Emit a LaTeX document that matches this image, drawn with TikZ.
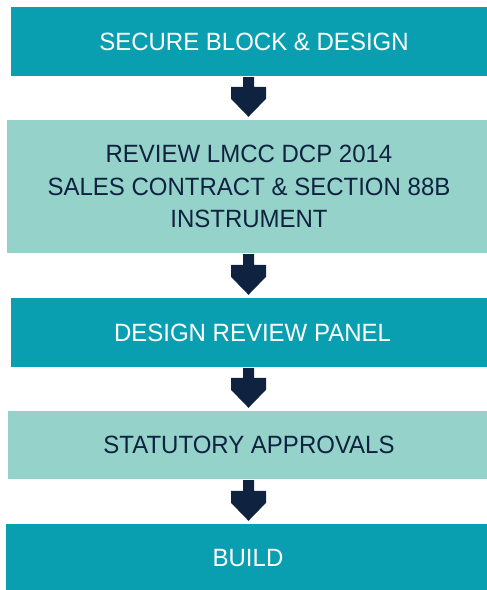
\documentclass[tikz,border=0pt]{standalone}
\usepackage{fontspec}
\setmainfont[FakeStretch=0.96]{Liberation Sans}
\usetikzlibrary{calc}
\definecolor{tealbox}{RGB}{9,158,176}
\definecolor{lightbox}{RGB}{149,211,202}
\definecolor{navy}{RGB}{15,34,64}
\tikzset{
  stagebox/.style={rectangle, inner sep=0pt},
  stagetext/.style={inner sep=0pt, align=center,
    font=\fontsize{25}{32.5}\selectfont},
  darkstage/.style={stagebox, fill=tealbox},
  lightstage/.style={stagebox, fill=lightbox},
  darktext/.style={stagetext, text=white},
  lighttext/.style={stagetext, text=navy},
  flowarrow/.style={fill=navy}
}
\newcommand\flowarr[2]{%
  \fill[flowarrow] ($(#1.south -| ax)+(-5.5,1)$)
    -- ($(#2.north -| ax)+(-5.5,-33)$)
    -- ($(#2.north -| ax)+(-17.5,-33)$)
    -- ($(#2.north -| ax)+(-17.5,-21)$)
    -- ($(#2.north -| ax)+(0,-3)$)
    -- ($(#2.north -| ax)+(17.5,-21)$)
    -- ($(#2.north -| ax)+(17.5,-33)$)
    -- ($(#2.north -| ax)+(5.5,-33)$)
    -- ($(#1.south -| ax)+(5.5,1)$) -- cycle;}
\begin{document}
\begin{tikzpicture}[x=1pt,y=-1pt]
\useasboundingbox (0,0) rectangle (487,590);
\coordinate (ax) at (248.5,0);
\node[darkstage, minimum width=476pt, minimum height=69pt] (s1) at (249,41.5) {};
\node[darktext] (t1) at ($(s1.center)+(5,0)$) {SECURE BLOCK \& DESIGN};
\node[lightstage, minimum width=480pt, minimum height=133pt] (s2) at (247,186.5) {};
\node[lighttext] (t2) at ($(s2.center)+(2,0)$) {REVIEW LMCC DCP 2014\\SALES CONTRACT \& SECTION 88B\\INSTRUMENT};
\node[darkstage, minimum width=476pt, minimum height=69pt] (s3) at (249,332.5) {};
\node[darktext] (t3) at ($(s3.center)+(3.5,0)$) {DESIGN REVIEW PANEL};
\node[lightstage, minimum width=479pt, minimum height=68pt] (s4) at (247.5,445) {};
\node[lighttext] (t4) at ($(s4.center)+(1.5,0)$) {STATUTORY APPROVALS};
\node[darkstage, minimum width=481pt, minimum height=66pt] (s5) at (246.5,557) {};
\node[darktext] (t5) at ($(s5.center)+(1.5,1.5)$) {BUILD};
\flowarr{s1}{s2}
\flowarr{s2}{s3}
\flowarr{s3}{s4}
\flowarr{s4}{s5}
\end{tikzpicture}
\end{document}
